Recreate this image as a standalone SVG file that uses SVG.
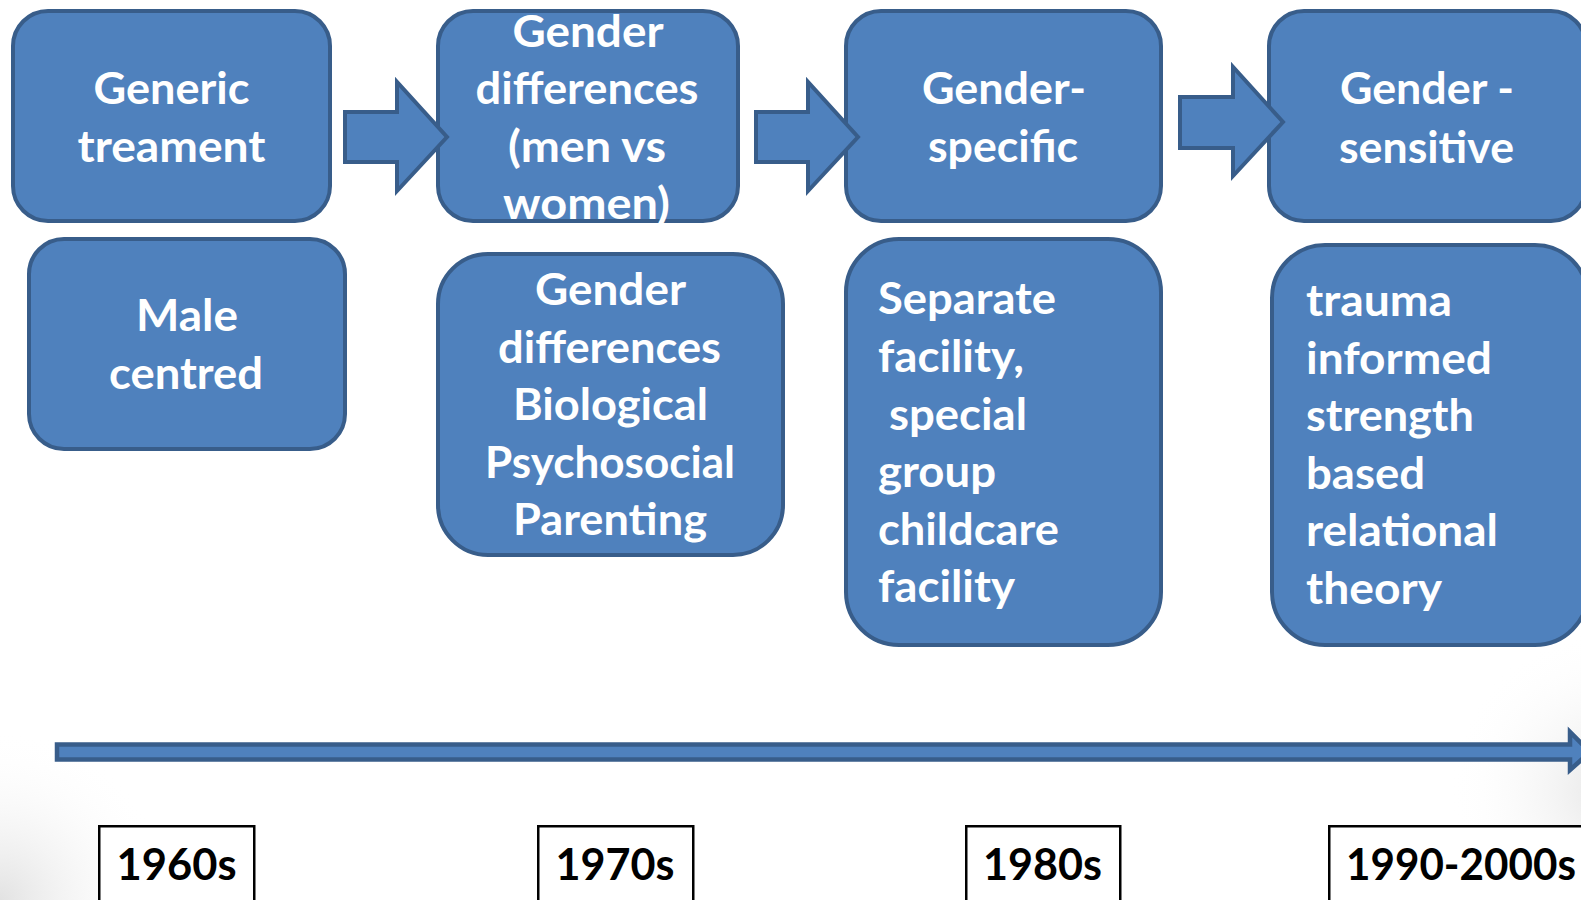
<svg xmlns="http://www.w3.org/2000/svg" width="1581" height="900" viewBox="0 0 1581 900">
  <defs>
    <radialGradient id="shadeBL" cx="0" cy="900" r="170" gradientUnits="userSpaceOnUse">
      <stop offset="0" stop-color="#e2e2e2"/>
      <stop offset="1" stop-color="#ffffff" stop-opacity="0"/>
    </radialGradient>
    <radialGradient id="shadeR" cx="1610" cy="790" r="160" gradientUnits="userSpaceOnUse">
      <stop offset="0" stop-color="#e6e6e6"/>
      <stop offset="1" stop-color="#ffffff" stop-opacity="0"/>
    </radialGradient>
    <style>
      .box { fill: #4F81BD; stroke: #385D8A; stroke-width: 4; }
      .arrow { fill: #4F81BD; stroke: #385D8A; stroke-width: 4; stroke-linejoin: miter; }
      .year { fill: #ffffff; stroke: #000000; stroke-width: 2.5; }
      .t { font-family: "Lato", "Open Sans", "Liberation Sans", sans-serif; font-weight: 700; font-size: 43px; fill: #ffffff; }
      .c { text-anchor: middle; }
      .y { font-family: "Lato", "Open Sans", "Liberation Sans", sans-serif; font-weight: 700; font-size: 43px; fill: #000000; text-anchor: middle; }
    </style>
  </defs>

  <rect x="0" y="0" width="1581" height="900" fill="#ffffff"/>
  <rect x="0" y="700" width="200" height="200" fill="url(#shadeBL)"/>
  <rect x="1420" y="620" width="161" height="280" fill="url(#shadeR)"/>

  <!-- top row -->
  <g id="node-generic">
    <rect class="box" x="13" y="11" width="317" height="210" rx="35" ry="35"/>
    <text class="t c" x="171.5" y="104" textLength="156" lengthAdjust="spacingAndGlyphs">Generic</text>
    <text class="t c" x="171.5" y="162" textLength="188" lengthAdjust="spacingAndGlyphs">treament</text>
  </g>
  <g id="node-differences">
    <rect class="box" x="438" y="11" width="300" height="210" rx="35" ry="35"/>
    <text class="t c" x="588" y="46.5" textLength="151" lengthAdjust="spacingAndGlyphs">Gender</text>
    <text class="t c" x="587" y="104" textLength="223" lengthAdjust="spacingAndGlyphs">differences</text>
    <text class="t c" x="587" y="161.7" textLength="158" lengthAdjust="spacingAndGlyphs">(men vs</text>
    <text class="t c" x="586.5" y="219.3" textLength="167" lengthAdjust="spacingAndGlyphs">women)</text>
  </g>
  <g id="node-specific">
    <rect class="box" x="846" y="11" width="315" height="210" rx="35" ry="35"/>
    <text class="t c" x="1004" y="104" textLength="164" lengthAdjust="spacingAndGlyphs">Gender-</text>
    <text class="t c" x="1003" y="162" textLength="150" lengthAdjust="spacingAndGlyphs">specific</text>
  </g>
  <g id="node-sensitive">
    <rect class="box" x="1269" y="11" width="317" height="210" rx="35" ry="35"/>
    <text class="t c" x="1427" y="104.3" textLength="174" lengthAdjust="spacingAndGlyphs">Gender -</text>
    <text class="t c" x="1426.5" y="162.5" textLength="175" lengthAdjust="spacingAndGlyphs">sensitive</text>
  </g>

  <!-- bottom row -->
  <g id="node-male">
    <rect class="box" x="29" y="239" width="316" height="210" rx="35" ry="35"/>
    <text class="t c" x="187" y="331" textLength="102" lengthAdjust="spacingAndGlyphs">Male</text>
    <text class="t c" x="186" y="389" textLength="154" lengthAdjust="spacingAndGlyphs">centred</text>
  </g>
  <g id="node-bio">
    <rect class="box" x="438" y="254" width="345" height="301" rx="50" ry="50"/>
    <text class="t c" x="610.5" y="305" textLength="151" lengthAdjust="spacingAndGlyphs">Gender</text>
    <text class="t c" x="609.5" y="362.6" textLength="223" lengthAdjust="spacingAndGlyphs">differences</text>
    <text class="t c" x="610.5" y="420.2" textLength="195" lengthAdjust="spacingAndGlyphs">Biological</text>
    <text class="t c" x="610" y="477.8" textLength="250" lengthAdjust="spacingAndGlyphs">Psychosocial</text>
    <text class="t c" x="610" y="535.4" textLength="194" lengthAdjust="spacingAndGlyphs">Parenting</text>
  </g>
  <g id="node-separate">
    <rect class="box" x="846" y="239" width="315" height="406" rx="53" ry="53"/>
    <text class="t" x="878" y="314.3" textLength="178" lengthAdjust="spacingAndGlyphs">Separate</text>
    <text class="t" x="878" y="371.9" textLength="146" lengthAdjust="spacingAndGlyphs">facility,</text>
    <text class="t" x="889" y="429.5" textLength="138" lengthAdjust="spacingAndGlyphs">special</text>
    <text class="t" x="878" y="487.1" textLength="118" lengthAdjust="spacingAndGlyphs">group</text>
    <text class="t" x="878" y="544.7" textLength="181" lengthAdjust="spacingAndGlyphs">childcare</text>
    <text class="t" x="878" y="602.3" textLength="137" lengthAdjust="spacingAndGlyphs">facility</text>
  </g>
  <g id="node-trauma">
    <rect class="box" x="1272" y="245" width="316" height="400" rx="53" ry="53"/>
    <text class="t" x="1306" y="316" textLength="146" lengthAdjust="spacingAndGlyphs">trauma</text>
    <text class="t" x="1306" y="373.6" textLength="186" lengthAdjust="spacingAndGlyphs">informed</text>
    <text class="t" x="1306" y="431.2" textLength="168" lengthAdjust="spacingAndGlyphs">strength</text>
    <text class="t" x="1306" y="488.8" textLength="119" lengthAdjust="spacingAndGlyphs">based</text>
    <text class="t" x="1306" y="546.4" textLength="192" lengthAdjust="spacingAndGlyphs">relational</text>
    <text class="t" x="1306" y="604" textLength="136" lengthAdjust="spacingAndGlyphs">theory</text>
  </g>

  <!-- connectors -->
  <g id="connectors">
    <path class="arrow" d="M345,112 L397,112 L397,82 L447,137 L397,191 L397,162 L345,162 Z"/>
    <path class="arrow" d="M756,112 L808,112 L808,82 L858,137 L808,191 L808,162 L756,162 Z"/>
    <path class="arrow" d="M1180,97 L1233,97 L1233,67 L1283,122 L1233,176 L1233,148 L1180,148 Z"/>
    <path class="arrow" d="M57,744.5 L1570,744.5 L1570,732 L1590,752 L1570,770 L1570,759.5 L57,759.5 Z" style="stroke-width:4.5"/>
  </g>

  <!-- year labels -->
  <g id="year-1960s">
    <rect class="year" x="99.25" y="826.25" width="155" height="100"/>
    <text class="y" x="176.5" y="880" textLength="120" lengthAdjust="spacingAndGlyphs">1960s</text>
  </g>
  <g id="year-1970s">
    <rect class="year" x="538.25" y="826.25" width="155" height="100"/>
    <text class="y" x="615" y="880" textLength="119" lengthAdjust="spacingAndGlyphs">1970s</text>
  </g>
  <g id="year-1980s">
    <rect class="year" x="966.25" y="826.25" width="154" height="100"/>
    <text class="y" x="1042.5" y="880" textLength="119" lengthAdjust="spacingAndGlyphs">1980s</text>
  </g>
  <g id="year-1990-2000s">
    <rect class="year" x="1329.25" y="826.25" width="300" height="100"/>
    <text class="y" x="1461" y="880" textLength="230" lengthAdjust="spacingAndGlyphs">1990-2000s</text>
  </g>
</svg>
